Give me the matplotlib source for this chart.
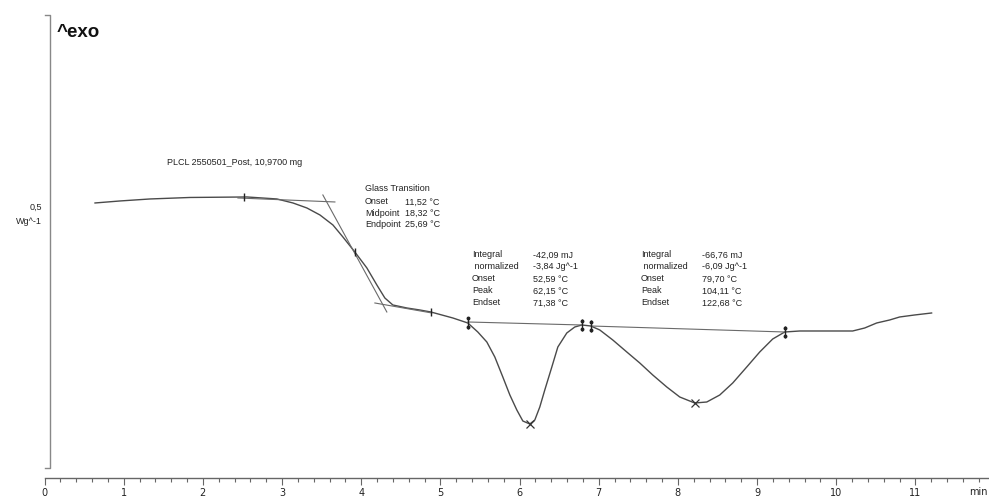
import matplotlib
matplotlib.use("Agg")
import matplotlib.pyplot as plt
from matplotlib.ticker import MultipleLocator

# DSC curve, time in min, heat flow in Wg^-1
time_min = [0.638, 0.953, 1.332, 1.837, 2.557, 2.936, 3.138, 3.314, 3.479, 3.643,
            3.769, 3.920, 4.072, 4.198, 4.299, 4.400, 4.577, 4.741, 4.880, 5.158,
            5.347, 5.473, 5.587, 5.688, 5.789, 5.878, 5.966, 6.042, 6.130, 6.193,
            6.256, 6.319, 6.408, 6.484, 6.597, 6.698, 6.787, 6.900, 7.014, 7.178,
            7.355, 7.519, 7.683, 7.860, 8.024, 8.213, 8.365, 8.529, 8.693, 8.870,
            9.034, 9.198, 9.350, 9.539, 9.917, 10.208, 10.360, 10.511, 10.675,
            10.801, 10.990, 11.205]
heat_flow = [0.52, 0.53, 0.54, 0.5475, 0.55, 0.54, 0.52, 0.495, 0.46, 0.41,
             0.35, 0.275, 0.195, 0.11, 0.045, 0.01, -0.005, -0.015, -0.025, -0.055,
             -0.08, -0.125, -0.175, -0.25, -0.35, -0.44, -0.515, -0.57, -0.585, -0.565,
             -0.50, -0.415, -0.30, -0.20, -0.13, -0.10, -0.09, -0.095, -0.115, -0.165,
             -0.225, -0.28, -0.34, -0.40, -0.45, -0.48, -0.475, -0.44, -0.38, -0.30,
             -0.225, -0.16, -0.125, -0.12, -0.12, -0.12, -0.105, -0.08, -0.065,
             -0.05, -0.04, -0.03]

# evaluation construction lines (x pairs, y pairs)
tangent_x = [(2.443, 3.668), (3.516, 4.324), (4.173, 4.893)]
tangent_y = [(0.545, 0.525), (0.56, -0.025), (0.02, -0.03)]
baseline_x = [(5.347, 6.787), (6.900, 9.350)]
baseline_y = [(-0.075, -0.09), (-0.095, -0.125)]

single_marks_x = [2.519, 3.920, 4.880]
single_marks_y = [0.55, 0.275, -0.025]
double_marks_x = [5.347, 6.787, 6.900, 9.350]
double_marks_y = [-0.078, -0.09, -0.095, -0.125]
peak_x = [6.130, 8.213]
peak_y = [-0.585, -0.48]

sample_label = "PLCL 2550501_Post, 10,9700 mg"
glass_rows = [("Onset", "11,52 °C"), ("Midpoint", "18,32 °C"), ("Endpoint", "25,69 °C")]
peak1_rows = [("Integral", "-42,09 mJ"), (" normalized", "-3,84 Jg^-1"),
              ("Onset", "52,59 °C"), ("Peak", "62,15 °C"), ("Endset", "71,38 °C")]
peak2_rows = [("Integral", "-66,76 mJ"), (" normalized", "-6,09 Jg^-1"),
              ("Onset", "79,70 °C"), ("Peak", "104,11 °C"), ("Endset", "122,68 °C")]

curve_color = "#4a4a4a"
line_color = "#6a6a6a"
text_color = "#222222"
fs = 6.5
fam = "Liberation Sans"

fig = plt.figure(figsize=(9.89, 4.97), dpi=100)
ax = fig.add_axes([0.045, 0.0382, 0.955, 0.9418])
ax.set_xlim(0, 11.93)
ax.set_ylim(-0.855, 1.485)

ax.plot(time_min, heat_flow, color=curve_color, lw=1.0, solid_joinstyle="round")
for xs, ys in zip(tangent_x, tangent_y):
    ax.plot(xs, ys, color=line_color, lw=0.8)
for xs, ys in zip(baseline_x, baseline_y):
    ax.plot(xs, ys, color=line_color, lw=0.8)

ax.plot(single_marks_x, single_marks_y, ls="none", marker="|", ms=6, mew=1.0, color="#222222")
ax.plot(double_marks_x, double_marks_y, ls="none", marker="|", ms=8, mew=1.0, color="#222222")
for mx, my in zip(double_marks_x, double_marks_y):
    ax.plot([mx, mx], [my + 0.022, my - 0.022], ls="none", marker="o", ms=1.8, color="#222222")
ax.plot(peak_x, peak_y, ls="none", marker="x", ms=6, mew=0.9, color="#333333")

# texts
ax.text(1.547, 0.72, sample_label, fontsize=fs, family=fam, color=text_color, va="center")
ax.text(4.047, 0.59, "Glass Transition", fontsize=fs, family=fam, color=text_color, va="center")
for i, (lab, val) in enumerate(glass_rows):
    y = 0.525 - i * 0.057
    ax.text(4.047, y, lab, fontsize=fs, family=fam, color=text_color, va="center")
    ax.text(4.551, y, val, fontsize=fs, family=fam, color=text_color, va="center")
for x0, x1, rows in [(5.398, 6.168, peak1_rows), (7.532, 8.301, peak2_rows)]:
    for i, (lab, val) in enumerate(rows):
        y = 0.26 - i * 0.06
        ax.text(x0, y, lab, fontsize=fs, family=fam, color=text_color, va="center")
        ax.text(x1, y, val, fontsize=fs, family=fam, color=text_color, va="center")

ax.text(0.157, 1.37, "^exo", fontsize=13.5, fontweight="bold", family=fam,
        color="#111111", va="center")
ax.text(-0.03, 0.5, "0,5", fontsize=fs, family=fam, color=text_color, ha="right",
        va="center", clip_on=False)
ax.text(-0.03, 0.425, "Wg^-1", fontsize=fs, family=fam, color=text_color, ha="right",
        va="center", clip_on=False)
ax.text(11.91, -0.925, "min", fontsize=7, color=text_color, ha="right", va="center",
        clip_on=False)

# y bracket
ax.plot([0.0, 0.069, 0.069, 0.0], [1.46, 1.46, -0.805, -0.805], color="#888888", lw=1.0,
        clip_on=False)

for s in ["top", "right", "left"]:
    ax.spines[s].set_visible(False)
ax.spines["bottom"].set_color("#666666")
ax.spines["bottom"].set_linewidth(1.0)
ax.set_yticks([])
ax.xaxis.set_major_locator(MultipleLocator(1))
ax.xaxis.set_minor_locator(MultipleLocator(0.2))
ax.set_xticks(range(0, 12))
ax.tick_params(axis="x", which="major", length=5, width=0.8, color="#666666",
               labelsize=7, labelcolor=text_color, pad=2)
ax.tick_params(axis="x", which="minor", length=3, width=0.8, color="#666666")

fig.savefig("out.png", dpi=100)
